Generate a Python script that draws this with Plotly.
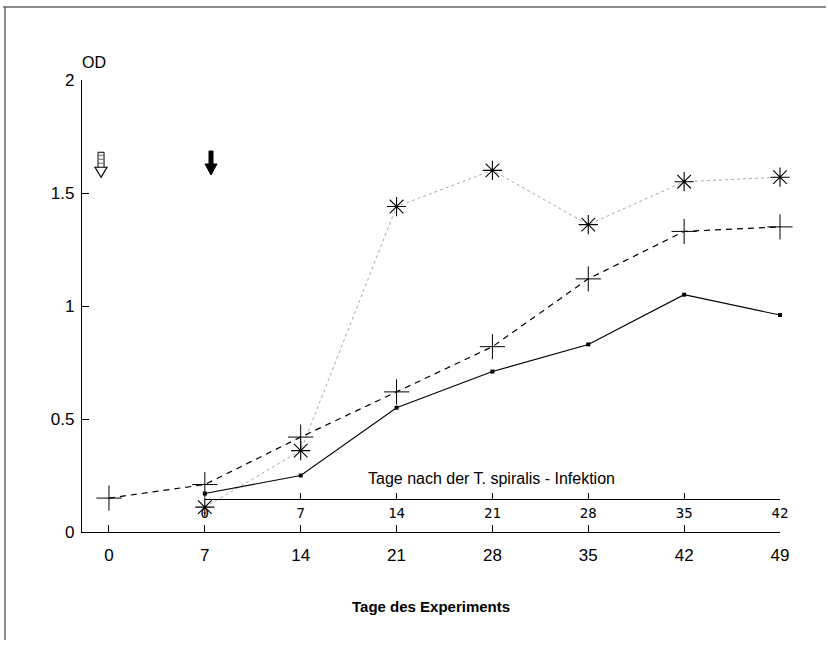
import plotly.graph_objects as go

# ---- data ----
days = [0, 7, 14, 21, 28, 35, 42, 49]
infection_days = [0, 7, 14, 21, 28, 35, 42]

days_solid = [7, 14, 21, 28, 35, 42, 49]
od_solid = [0.17, 0.25, 0.55, 0.71, 0.83, 1.05, 0.96]

days_dashed = [0, 7, 14, 21, 28, 35, 42, 49]
od_dashed = [0.15, 0.21, 0.42, 0.62, 0.82, 1.12, 1.33, 1.35]

days_dotted = [7, 14, 21, 28, 35, 42, 49]
od_dotted = [0.11, 0.36, 1.44, 1.60, 1.36, 1.55, 1.57]

y_ticks = [0, 0.5, 1, 1.5, 2]
y_tick_text = ["0", "0.5", "1", "1.5", "2"]

FONT = "Liberation Sans, Arial, Helvetica, sans-serif"

x_min = -1.97
x_max = 49
sec_start = 7  # infection day 0 = experiment day 7
sec_dom0 = (sec_start - x_min) / (x_max - x_min)

fig = go.Figure()

# dummy trace to realise the secondary axis (added first so it sits underneath)
fig.add_trace(go.Scatter(
    x=infection_days, y=[None] * len(infection_days), xaxis="x2", yaxis="y",
    mode="markers", showlegend=False, hoverinfo="skip"))

fig.add_trace(go.Scatter(
    x=days_dotted, y=od_dotted, mode="lines+markers", cliponaxis=False,
    line=dict(color="#a8a8a8", width=1, dash="dot"),
    marker=dict(symbol="asterisk-open", size=16, color="black",
                line=dict(color="black", width=1.1)),
    showlegend=False, hoverinfo="skip"))

fig.add_trace(go.Scatter(
    x=days_dashed, y=od_dashed, mode="lines+markers", cliponaxis=False,
    line=dict(color="black", width=1.2, dash="6px,5px"),
    marker=dict(symbol="cross-thin-open", size=18, color="black",
                line=dict(color="black", width=1)),
    showlegend=False, hoverinfo="skip"))

fig.add_trace(go.Scatter(
    x=days_solid, y=od_solid, mode="lines+markers", cliponaxis=False,
    line=dict(color="black", width=1.1),
    marker=dict(symbol="square", size=4, color="black"),
    showlegend=False, hoverinfo="skip"))

fig.update_layout(
    width=828, height=645,
    margin=dict(l=82, r=48, t=80, b=113),
    paper_bgcolor="white", plot_bgcolor="rgba(0,0,0,0)",
    font=dict(family=FONT, color="black", size=16),
    xaxis=dict(
        domain=[0, 1],
        range=[x_min, x_max], tickvals=days, ticktext=[str(d) for d in days],
        showgrid=False, zeroline=False, showline=True, linecolor="black", linewidth=1.3,
        ticks="inside", ticklen=7, tickcolor="black", tickwidth=1,
        ticklabelstandoff=7, tickfont=dict(size=17, family=FONT),
    ),
    xaxis2=dict(
        anchor="free", position=(532 - 499) / 452,
        domain=[sec_dom0, 1], range=[0, 42],
        tickvals=infection_days, ticktext=[str(d) for d in infection_days],
        showgrid=False, zeroline=False, showline=True, linecolor="black", linewidth=1.2,
        ticks="inside", ticklen=6, tickcolor="black", tickwidth=1, side="bottom",
        ticklabelstandoff=1,
        tickfont=dict(size=14, family="DejaVu Sans Mono", color="black"),
    ),
    yaxis=dict(
        range=[0, 2], tickvals=y_ticks, ticktext=y_tick_text,
        showgrid=False, zeroline=False, showline=True, linecolor="black", linewidth=1.3,
        ticks="inside", ticklen=7, tickcolor="black", tickwidth=1,
        ticklabelstandoff=3, tickfont=dict(size=17, family=FONT),
    ),
)

annotations = [
    dict(text="OD", xref="paper", yref="paper", x=-0.003, y=(532 - 62) / 452,
         xanchor="left", yanchor="middle", showarrow=False, font=dict(size=16, family=FONT)),
    dict(text="<b>Tage des Experiments</b>", xref="paper", yref="paper", x=0.5,
         y=(532 - 606) / 452, xanchor="center", yanchor="middle", showarrow=False,
         font=dict(size=15, family=FONT)),
    dict(text="Tage nach der T. spiralis - Infektion", xref="x", yref="y", x=27.9, y=0.235,
         xanchor="center", yanchor="middle", showarrow=False, font=dict(size=16, family=FONT)),
]
fig.update_layout(annotations=annotations)

# page frame (scan border)
def px_x(p):
    return (p - 82) / 698
def px_y(p):
    return (532 - p) / 452

shapes = [
    dict(type="line", xref="paper", yref="paper", x0=px_x(3), x1=px_x(826), y0=px_y(7), y1=px_y(7),
         line=dict(color="#666", width=1.5)),
    dict(type="line", xref="paper", yref="paper", x0=px_x(5), x1=px_x(5), y0=px_y(7), y1=px_y(640),
         line=dict(color="#666", width=1.5)),
]

# solid arrow (day 7) and hollow arrow (day 0)
solid_path = "M0,0 L-6,11 L-2,11 L-2,24 L2,24 L2,11 L6,11 Z"
hollow_head = "M0,0 L-6,10 L6,10 Z"
hollow_shaft = "M-3,10 L-3,25 L3,25 L3,10"
hollow_stripes = "M-3,14 L3,14 M-3,18 L3,18 M-3,22 L3,22"
arrow_tip_y = (532 - 175) / 226
shapes += [
    dict(type="path", xref="x", yref="y", xsizemode="pixel", ysizemode="pixel",
         xanchor=7.45, yanchor=arrow_tip_y, path=solid_path,
         fillcolor="black", line=dict(color="black", width=1)),
    dict(type="path", xref="x", yref="y", xsizemode="pixel", ysizemode="pixel",
         xanchor=-0.58, yanchor=arrow_tip_y - 0.01, path=hollow_head,
         fillcolor="white", line=dict(color="black", width=1.2)),
    dict(type="path", xref="x", yref="y", xsizemode="pixel", ysizemode="pixel",
         xanchor=-0.58, yanchor=arrow_tip_y - 0.01, path=hollow_shaft,
         line=dict(color="black", width=1)),
    dict(type="path", xref="x", yref="y", xsizemode="pixel", ysizemode="pixel",
         xanchor=-0.58, yanchor=arrow_tip_y - 0.01, path=hollow_stripes,
         line=dict(color="#666", width=1)),
]
fig.update_layout(shapes=shapes)

fig.write_html("out.html", config={"displayModeBar": False},
               post_script="document.body.style.margin='0';document.body.style.overflow='hidden';")
